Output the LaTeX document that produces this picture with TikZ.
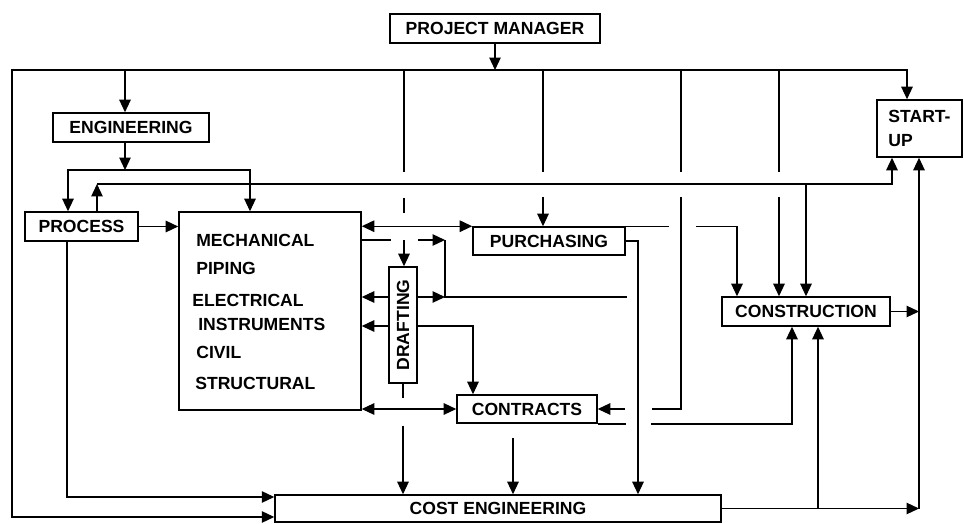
\documentclass[tikz,border=0pt]{standalone}
\usepackage{fontspec}
\setmainfont{Liberation Sans}
\usepackage{graphicx}
\usepackage{tikz}
\usetikzlibrary{arrows.meta}
\tikzset{
  >={Triangle[length=2.5mm,width=2.3mm]},
  font=\fontsize{10}{12}\selectfont\bfseries,
  dept/.style={
    draw, line width=0.9pt, fill=white, inner sep=0pt,
    minimum height=0.58cm, minimum width=#1
  },
  dept/.default=3cm,
  wire/.style={line width=0.7pt},
  feed/.style={wire, ->},
  twoway/.style={wire, <->},
  item/.style={anchor=west, inner sep=0pt}
}
\begin{document}
\begin{tikzpicture}[x=0.02cm, y=-0.02cm]
  \useasboundingbox (0,0) rectangle (964,524);
  \node[dept=4.2cm] (pm) at (495,28.5) {PROJECT MANAGER};
  \node[dept=3.12cm] (eng) at (131,127.5) {ENGINEERING};
  \node[dept=2.26cm] (proc) at (81.5,226.5) {PROCESS};
  \node[dept=3.64cm, minimum height=3.96cm] (big) at (270,311) {};
  \node[dept=3.04cm, minimum height=0.56cm] (purch) at (549,241) {PURCHASING};
  \node[dept=0.56cm, minimum height=2.32cm] (draft) at (403,325) {\rotatebox{90}{DRAFTING}};
  \node[dept=2.8cm, minimum height=0.56cm] (contr) at (527,409) {CONTRACTS};
  \node[dept=3.36cm] (cons) at (806,311.5) {CONSTRUCTION};
  \node[dept=1.7cm, minimum height=1.14cm, align=left] (start) at (919.5,128.5) {START-\\[2pt]UP};
  \node[dept=8.92cm, minimum height=0.54cm] (cost) at (498,508.5) {COST ENGINEERING};
  \node[item] (mech) at (196,240) {MECHANICAL};
  \node[item] (piping) at (196,268) {PIPING};
  \node[item] (elec) at (192,300) {ELECTRICAL};
  \node[item] (instr) at (198,324) {INSTRUMENTS};
  \node[item] (civil) at (196,352) {CIVIL};
  \node[item] (struct) at (195,383) {STRUCTURAL};

  \coordinate (tl) at (12,70);
  \coordinate (tr) at (907,70);
  \coordinate (bl) at (12,517);
  \coordinate (esplit) at (125,170);
  \coordinate (pin) at (68,170);
  \coordinate (bin) at (250,170);
  \coordinate (bus) at (97,184);
  \coordinate (busend) at (892,184);
  \coordinate (busdown) at (806,184);
  \coordinate (pdown) at (67,497);
  \coordinate (dcol) at (404,70);
  \coordinate (pcol) at (543,70);
  \coordinate (ccol) at (681,70);
  \coordinate (kcol) at (779,70);
  \coordinate (kturn) at (737,226);
  \coordinate (ljoin) at (445,240);
  \coordinate (lend) at (627,297);
  \coordinate (ctojoin) at (473,326);
  \coordinate (qcol) at (638,241);
  \coordinate (tcol) at (513,423);
  \coordinate (sturn) at (792,424);
  \coordinate (cjoin) at (818,508.5);
  \coordinate (rjoin) at (919,508.5);

  \draw[twoway] (bl -| cost.west) -- (bl) -- (tl) -- (tr) -- (tr |- start.north);
  \draw[feed] (pm.south) -- (pm.south |- tl);
  \draw[feed] (esplit |- tl) -- (esplit |- eng.north);
  \draw[feed] (esplit |- eng.south) -- (esplit);
  \draw[twoway] (pin |- proc.north) -- (pin) -- (bin) -- (bin |- big.north);
  \draw[feed] (bus |- proc.north) -- (bus);
  \draw[feed] (bus) -- (busend) -- (busend |- start.south);
  \draw[feed] (busdown) -- (busdown |- cons.north);
  \draw[feed] (proc.east) -- (proc.east -| big.west);
  \draw[feed] (pdown |- proc.south) -- (pdown) -- (pdown -| cost.west);
  \draw[feed, dash pattern=on 2.04cm off 0.52cm on 0.3cm off 0.54cm on 2cm] (dcol) -- (dcol |- draft.north);
  \draw[feed, dash pattern=on 2.04cm off 0.5cm on 2cm] (pcol) -- (pcol |- purch.north);
  \draw[feed, dash pattern=on 2.04cm off 0.5cm on 2cm] (kcol) -- (kcol |- cons.north);
  \draw[feed, dash pattern=on 2.04cm off 0.5cm on 4.82cm off 0.54cm on 2cm] (ccol) |- (contr.east);
  \draw[twoway] (big.east |- purch.north) -- (purch.north west);
  \draw[feed, dash pattern=on 0.86cm off 0.54cm on 3cm] (purch.north east) -- (kturn |- purch.north) -- (kturn |- cons.north);
  \draw[feed, dash pattern=on 0.58cm off 0.54cm on 2cm] (big.east |- ljoin) -- (ljoin);
  \draw[wire] (ljoin) |- (lend);
  \draw[feed] (draft.east |- lend) -- (ljoin |- lend);
  \draw[feed] (draft.west |- lend) -- (big.east |- lend);
  \draw[feed] (draft.west |- ctojoin) -- (big.east |- ctojoin);
  \draw[feed] (draft.east |- ctojoin) -- (ctojoin) -- (ctojoin |- contr.north);
  \draw[twoway] (big.east |- contr.west) -- (contr.west);
  \draw[feed, dash pattern=on 0.28cm off 0.56cm on 3cm] (draft.south) -- (draft.south |- cost.north);
  \draw[feed] (purch.east) -- (qcol) -- (qcol |- cost.north);
  \draw[feed, dash pattern=on 0.56cm off 0.5cm on 5cm] (contr.south east |- sturn) -- (sturn) -- (sturn |- cons.south);
  \draw[feed, shorten <=0.3cm] (tcol) -- (tcol |- cost.north);
  \draw[feed] (cost.east) -- (rjoin);
  \draw[feed] (cjoin) -- (cjoin |- cons.south);
  \draw[feed] (cons.east) -- (cons.east -| rjoin);
  \draw[feed] (rjoin) -- (rjoin |- start.south);
\end{tikzpicture}
\end{document}
